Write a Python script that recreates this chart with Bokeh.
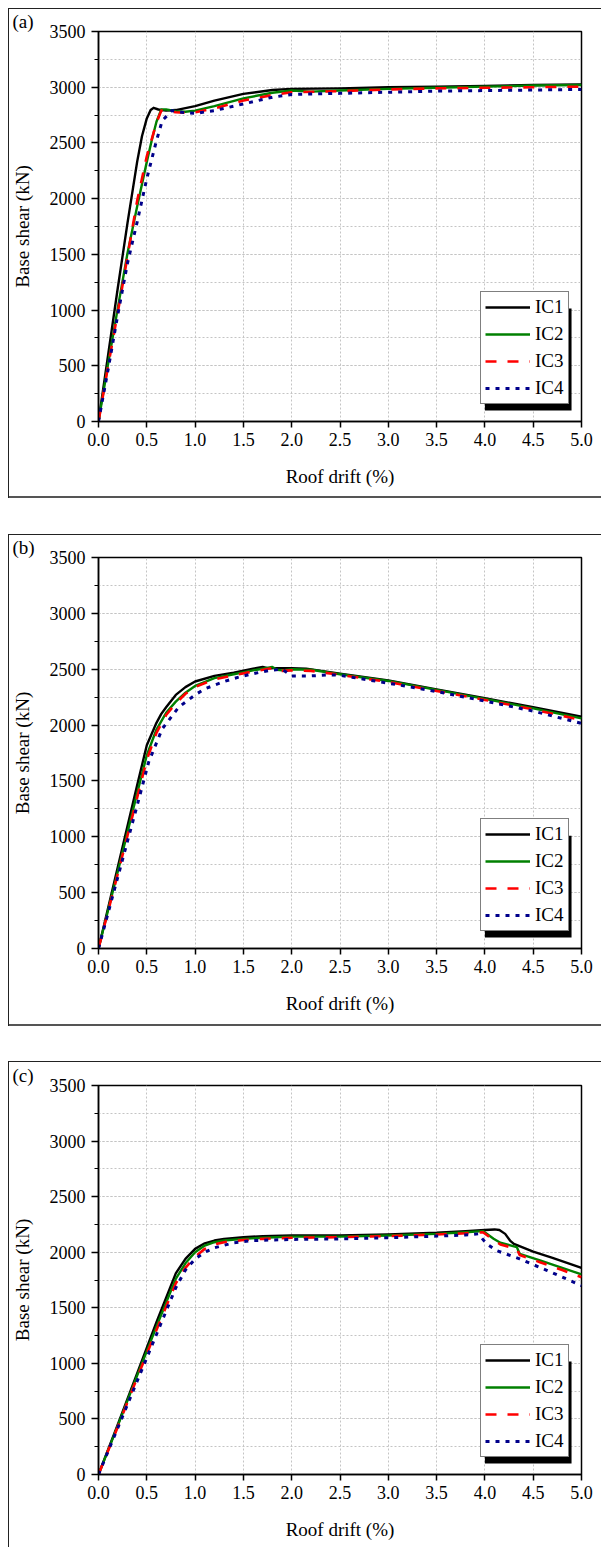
from bokeh.plotting import figure
from bokeh.models import (Range1d, FixedTicker, NumeralTickFormatter, Legend,
                          LegendItem, BoxAnnotation, Title)
from bokeh.layouts import column
from bokeh.embed import file_html
from bokeh.resources import INLINE

# ---------------- data ----------------
SERIES_NAMES = ["IC1", "IC2", "IC3", "IC4"]
PANEL_TAGS = ["(a)", "(b)", "(c)"]
X_TICKS = [0.0, 0.5, 1.0, 1.5, 2.0, 2.5, 3.0, 3.5, 4.0, 4.5, 5.0]
Y_TICKS = [0, 500, 1000, 1500, 2000, 2500, 3000, 3500]
Y_MINOR = [0, 250, 500, 750, 1000, 1250, 1500, 1750, 2000, 2250, 2500, 2750,
           3000, 3250, 3500]

# panel (a)
A_IC1_D = [0, 0.1, 0.2, 0.3, 0.4, 0.45, 0.5, 0.54, 0.57, 0.62, 0.7, 0.8, 1.0, 1.2, 1.5, 1.8, 2.0, 2.5, 3.0, 3.5, 4.0, 4.5, 5.0]
A_IC1_V = [0, 600, 1200, 1780, 2330, 2560, 2720, 2795, 2815, 2800, 2790, 2795, 2830, 2880, 2940, 2975, 2985, 2990, 3000, 3005, 3012, 3020, 3025]
A_IC2_D = [0, 0.1, 0.2, 0.3, 0.4, 0.5, 0.55, 0.6, 0.65, 0.7, 0.8, 0.9, 1.0, 1.2, 1.5, 1.8, 2.0, 2.2, 2.5, 3.0, 3.5, 4.0, 4.5, 5.0]
A_IC2_V = [0, 520, 1020, 1510, 1930, 2330, 2520, 2690, 2800, 2800, 2785, 2780, 2790, 2830, 2900, 2950, 2970, 2960, 2970, 2985, 2995, 3005, 3015, 3020]
A_IC3_D = [0, 0.1, 0.2, 0.3, 0.4, 0.5, 0.6, 0.65, 0.7, 0.8, 0.9, 1.0, 1.2, 1.5, 1.8, 2.0, 2.5, 3.0, 3.5, 4.0, 4.5, 5.0]
A_IC3_V = [0, 500, 980, 1480, 1980, 2380, 2680, 2790, 2790, 2775, 2770, 2775, 2810, 2880, 2930, 2955, 2965, 2980, 2990, 2995, 3000, 3005]
A_IC4_D = [0, 0.1, 0.2, 0.3, 0.4, 0.5, 0.6, 0.66, 0.76, 0.9, 1.0, 1.2, 1.5, 1.8, 2.0, 2.5, 3.0, 3.5, 4.0, 4.5, 5.0]
A_IC4_V = [0, 470, 960, 1420, 1790, 2180, 2520, 2700, 2790, 2770, 2765, 2790, 2850, 2910, 2935, 2945, 2955, 2965, 2970, 2975, 2980]

# panel (b)
B_IC1_D = [0, 0.2, 0.4, 0.5, 0.6, 0.65, 0.7, 0.8, 0.9, 1.0, 1.2, 1.4, 1.6, 1.7, 1.75, 2.0, 2.15, 2.5, 3.0, 3.5, 4.0, 4.5, 5.0]
B_IC1_V = [0, 730, 1460, 1820, 2020, 2100, 2160, 2270, 2340, 2390, 2440, 2470, 2505, 2520, 2510, 2510, 2505, 2460, 2400, 2320, 2240, 2160, 2075]
B_IC2_D = [0, 0.2, 0.4, 0.5, 0.6, 0.7, 0.8, 0.9, 1.0, 1.2, 1.4, 1.6, 1.8, 1.85, 1.9, 2.0, 2.2, 2.5, 3.0, 3.5, 4.0, 4.5, 5.0]
B_IC2_V = [0, 690, 1390, 1730, 1960, 2110, 2210, 2290, 2350, 2420, 2455, 2490, 2520, 2495, 2490, 2500, 2495, 2455, 2395, 2315, 2235, 2150, 2060]
B_IC3_D = [0, 0.2, 0.4, 0.5, 0.6, 0.7, 0.8, 0.9, 1.0, 1.2, 1.4, 1.6, 1.8, 1.85, 1.9, 2.0, 2.2, 2.5, 3.0, 3.5, 4.0, 4.5, 5.0]
B_IC3_V = [0, 670, 1350, 1690, 1930, 2090, 2195, 2280, 2340, 2410, 2445, 2480, 2510, 2490, 2485, 2490, 2485, 2450, 2385, 2305, 2225, 2140, 2045]
B_IC4_D = [0, 0.2, 0.4, 0.52, 0.66, 0.83, 1.0, 1.1, 1.3, 1.45, 1.6, 1.76, 1.9, 2.0, 2.2, 2.4, 2.5, 3.0, 3.5, 4.0, 4.5, 5.0]
B_IC4_V = [0, 640, 1280, 1670, 1967, 2160, 2270, 2324, 2390, 2429, 2460, 2488, 2500, 2440, 2440, 2450, 2445, 2375, 2300, 2215, 2125, 2015]

# panel (c)
C_IC1_D = [0, 0.2, 0.4, 0.6, 0.8, 0.9, 1.0, 1.1, 1.2, 1.3, 1.5, 1.7, 2.0, 2.5, 3.0, 3.5, 3.8, 4.0, 4.1, 4.15, 4.21, 4.26, 4.3, 4.5, 4.7, 5.0]
C_IC1_V = [0, 450, 910, 1370, 1810, 1940, 2030, 2080, 2105, 2120, 2135, 2145, 2150, 2150, 2160, 2175, 2190, 2200, 2205, 2200, 2165, 2105, 2075, 2005, 1950, 1860]
C_IC2_D = [0, 0.2, 0.4, 0.6, 0.8, 0.9, 1.0, 1.1, 1.2, 1.3, 1.5, 1.7, 2.0, 2.5, 3.0, 3.5, 3.8, 3.98, 4.09, 4.16, 4.33, 4.36, 4.57, 4.8, 5.0]
C_IC2_V = [0, 440, 890, 1330, 1760, 1900, 2000, 2060, 2090, 2105, 2120, 2130, 2140, 2140, 2150, 2165, 2180, 2190, 2121, 2085, 2046, 1986, 1926, 1860, 1800]
C_IC3_D = [0, 0.2, 0.4, 0.6, 0.8, 0.9, 1.0, 1.1, 1.2, 1.3, 1.5, 1.7, 2.0, 2.5, 3.0, 3.5, 3.8, 3.98, 4.09, 4.16, 4.33, 4.36, 4.57, 4.8, 5.0]
C_IC3_V = [0, 430, 870, 1300, 1720, 1860, 1960, 2030, 2070, 2090, 2110, 2120, 2130, 2135, 2145, 2160, 2170, 2180, 2110, 2070, 2030, 1975, 1910, 1840, 1775]
C_IC4_D = [0, 0.2, 0.4, 0.6, 0.8, 0.9, 1.0, 1.1, 1.2, 1.4, 1.6, 2.0, 2.5, 3.0, 3.5, 3.8, 3.93, 4.02, 4.12, 4.36, 4.64, 5.0]
C_IC4_V = [0, 420, 840, 1260, 1680, 1840, 1940, 2000, 2040, 2085, 2105, 2115, 2120, 2130, 2145, 2155, 2165, 2075, 2015, 1940, 1837, 1700]

PANELS = [
    [(A_IC1_D, A_IC1_V), (A_IC2_D, A_IC2_V), (A_IC3_D, A_IC3_V), (A_IC4_D, A_IC4_V)],
    [(B_IC1_D, B_IC1_V), (B_IC2_D, B_IC2_V), (B_IC3_D, B_IC3_V), (B_IC4_D, B_IC4_V)],
    [(C_IC1_D, C_IC1_V), (C_IC2_D, C_IC2_V), (C_IC3_D, C_IC3_V), (C_IC4_D, C_IC4_V)],
]

# ---------------- styling ----------------
FONT = "Liberation Serif"
COLORS = ["#000000", "#008000", "#ff0000", "#00008b"]
DASHES = ["solid", "solid", "11 11", "4 6"]
WIDTHS = [2.4, 2.4, 2.6, 3.0]
GRID_COLOR = "#c4c4c4"

FRAME_W = 485
LEFT_B = 88
RIGHT_B = 20

# (height, top border, bottom border, top margin, draw bottom box line)
GEOM = [(490, 23, 77, 8, True), (492, 22, 78, 36, True), (486, 24, 73, 35, False)]


def make_panel(idx):
    height, top_b, bot_b, top_m, bottom_line = GEOM[idx]
    frame_h = height - top_b - bot_b
    px_x = FRAME_W / 5.0
    px_y = frame_h / 3500.0

    shadow = "inset 1px 0 0 #222, inset 0 1px 0 #222"
    if bottom_line:
        shadow += ", inset 0 -2px 0 #555"

    p = figure(width=593, height=height, x_range=Range1d(0, 5),
               y_range=Range1d(0, 3500), output_backend="svg",
               toolbar_location=None, title=None,
               min_border_left=LEFT_B, min_border_right=RIGHT_B,
               min_border_top=top_b, min_border_bottom=bot_b,
               margin=(top_m, 0, 0, 8),
               styles={"box-shadow": shadow})
    p.border_fill_color = None
    p.background_fill_color = "white"
    p.outline_line_color = "black"
    p.outline_line_width = 1.5

    # panel tag as a left-shifted title
    p.add_layout(Title(text=PANEL_TAGS[idx], align="left", offset=-86,
                       standoff=0, text_font=FONT, text_font_size="19px",
                       text_font_style="normal", text_color="black"), "above")

    # axes
    p.xaxis.ticker = FixedTicker(ticks=X_TICKS)
    p.xaxis.formatter = NumeralTickFormatter(format="0.0")
    p.yaxis.ticker = FixedTicker(ticks=Y_TICKS, minor_ticks=Y_MINOR)
    p.yaxis.formatter = NumeralTickFormatter(format="0")
    p.xaxis.axis_label = "Roof drift (%)"
    p.yaxis.axis_label = "Base shear (kN)"
    for ax in (p.xaxis[0], p.yaxis[0]):
        ax.axis_line_color = "black"
        ax.axis_line_width = 1.5
        ax.major_tick_line_color = "black"
        ax.major_tick_line_width = 1.5
        ax.major_tick_out = 7
        ax.major_tick_in = 0
        ax.minor_tick_line_color = "black"
        ax.minor_tick_line_width = 1.2
        ax.minor_tick_out = 4
        ax.minor_tick_in = 0
        ax.major_label_text_font = FONT
        ax.major_label_text_font_size = "18px"
        ax.major_label_text_color = "black"
        ax.axis_label_text_font = FONT
        ax.axis_label_text_font_size = "19px"
        ax.axis_label_text_font_style = "normal"
        ax.axis_label_text_color = "black"
    p.xaxis.major_tick_out = 6
    p.xaxis.minor_tick_line_color = None
    p.xaxis.major_label_standoff = 5
    p.xaxis.axis_label_standoff = 17
    p.yaxis.major_label_standoff = 6
    p.yaxis.axis_label_standoff = 14

    # grid
    p.xgrid.ticker = FixedTicker(ticks=X_TICKS)
    p.ygrid.ticker = FixedTicker(ticks=Y_TICKS, minor_ticks=Y_MINOR)
    for g in (p.xgrid[0], p.ygrid[0]):
        g.grid_line_color = GRID_COLOR
        g.grid_line_dash = "2 2"
        g.grid_line_width = 1
    p.ygrid.minor_grid_line_color = GRID_COLOR
    p.ygrid.minor_grid_line_dash = "2 2"
    p.ygrid.minor_grid_line_width = 1

    # curves
    renderers = []
    for k, (d, v) in enumerate(PANELS[idx]):
        r = p.line(d, v, line_color=COLORS[k], line_width=WIDTHS[k],
                   line_dash=DASHES[k], line_join="round")
        renderers.append(r)

    # legend with drop shadow
    lx, ly, lw, lh, off = 382, 17, 87, 102, 6
    p.add_layout(BoxAnnotation(left=(lx + off) / px_x, right=(lx + lw + off) / px_x,
                               bottom=(ly - off) / px_y, top=(ly + lh - off) / px_y,
                               fill_color="black", fill_alpha=1.0, line_color=None))
    legend = Legend(items=[LegendItem(label=n, renderers=[r])
                           for n, r in zip(SERIES_NAMES, renderers)],
                    location=(lx, ly), margin=0, padding=4, spacing=5,
                    glyph_width=45, glyph_height=20, label_height=20,
                    label_standoff=5, label_text_font=FONT,
                    label_text_font_size="19px", label_text_color="black",
                    border_line_color="black", border_line_width=1,
                    background_fill_color="white", background_fill_alpha=1.0)
    p.add_layout(legend)
    return p


panels = [make_panel(i) for i in range(3)]
layout = column(*panels, spacing=0)

open("out.html", "w").write(file_html(layout, INLINE))
